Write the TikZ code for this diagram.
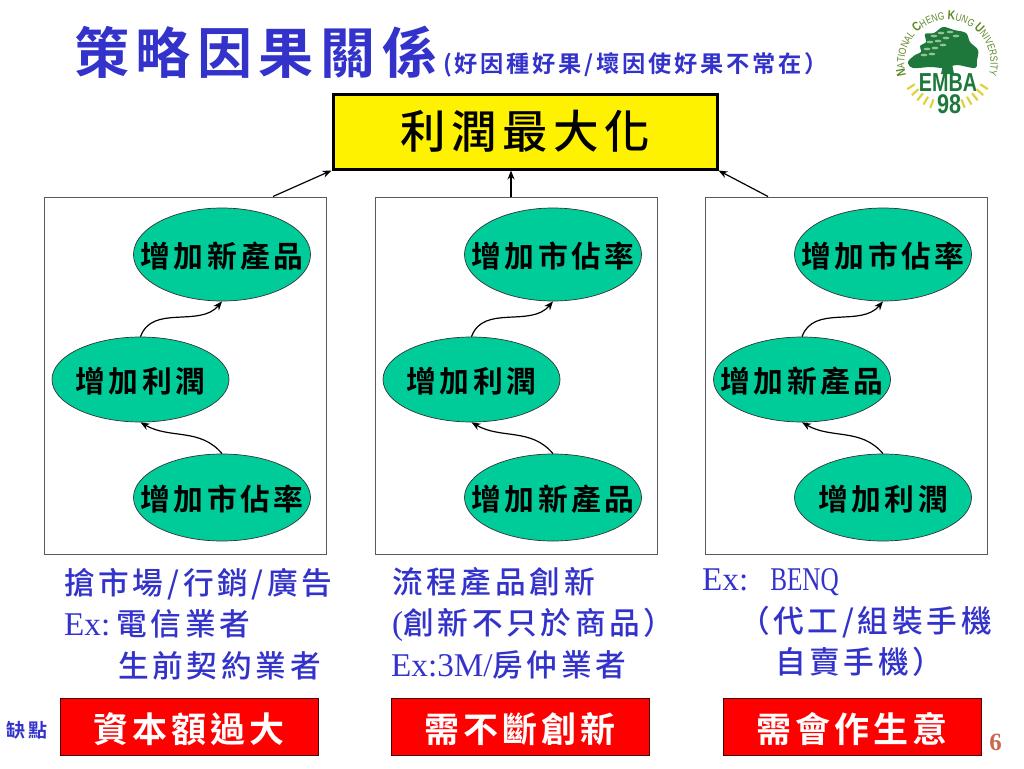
\documentclass[tikz,border=0pt]{standalone}
\usepackage{fontspec}
\usepackage{tikz}
\usetikzlibrary{arrows.meta,decorations.text,shapes.geometric}
\setmainfont[Scale=1.08]{Liberation Serif}
\newfontfamily\cjk[LetterSpace=12]{Noto Sans CJK TC Medium}
\newfontfamily\cjkb[LetterSpace=12]{Noto Sans CJK TC Bold}
\newfontfamily\logofont[FakeStretch=0.8]{Liberation Sans}
\newfontfamily\logobold{Liberation Sans}
\newcommand{\aimtext}[1]{\makebox[0pt]{#1}}
\newcommand{\ringbig}{\fontsize{13}{14}\logofont\bfseries}
\newcommand{\ringsmall}{\fontsize{10.5}{11}\logofont}
\definecolor{cblue}{RGB}{51, 51, 204}
\definecolor{cgreen}{RGB}{0, 204, 153}
\definecolor{cframe}{RGB}{90, 90, 90}
\definecolor{cpage}{RGB}{204, 102, 80}
\definecolor{ctree}{RGB}{30, 120, 60}
\definecolor{cleaf}{RGB}{150, 195, 150}
\definecolor{cring}{RGB}{95, 135, 40}
\definecolor{cray}{RGB}{225, 210, 60}
\tikzset{
  goalbox/.style={rectangle, draw=black, fill=yellow, line width=3pt, minimum width=384pt, minimum height=75pt, inner sep=0pt, font=\fontsize{45.5}{48}\cjk},
  casebox/.style={rectangle, draw=cframe, line width=1pt, minimum width=282pt, minimum height=357pt},
  aim/.style={ellipse, draw=black!80, fill=cgreen, line width=0.7pt, minimum width=177pt, minimum height=87pt, inner sep=0pt, text height=26.6pt, text depth=0pt, font=\fontsize{29.8}{32}\cjkb},
  weakbox/.style={rectangle, draw=black!70!red, fill=red, line width=1pt, minimum width=258pt, minimum height=57pt, inner sep=0pt, text=white, text height=32.6pt, text depth=0pt, font=\fontsize{35}{38}\cjkb},
  caption/.style={anchor=west, inner sep=0pt, align=left, text=cblue, font=\fontsize{30.7}{41.5}\selectfont},
  flow/.style={-{Stealth[length=9pt,width=7pt]}, line width=1.2pt, color=black}
}
\begin{document}
\begin{tikzpicture}
\useasboundingbox (0pt, 0pt) rectangle (1024pt, -768pt);
\node (title) [anchor=west, inner sep=0pt, text=cblue, font=\fontsize{55}{60}\cjkb] at (74pt, -52pt) {策略因果關係};
\node (subtitle) [anchor=west, inner sep=0pt, text=cblue, font=\fontsize{23.2}{26}\cjkb] at (443pt, -65pt) {(好因種好果/壞因使好果不常在）};
\node (goal) [goalbox] at (525pt, -131.5pt) {利潤最大化};
\node (boxA) [casebox] at (185pt, -375.5pt) {};
\node (boxB) [casebox] at (516pt, -375.5pt) {};
\node (boxC) [casebox] at (846.5pt, -375.5pt) {};
\node (topA) [aim, minimum height=93pt] at (222pt, -254.5pt) {\aimtext{增加新產品}};
\node (midA) [aim, minimum height=85pt] at (140.5pt, -379.5pt) {\aimtext{增加利潤}};
\node (botA) [aim] at (222pt, -497.5pt) {\aimtext{增加市佔率}};
\node (topB) [aim, minimum height=93pt] at (553pt, -254.5pt) {\aimtext{增加市佔率}};
\node (midB) [aim, minimum height=85pt] at (471.5pt, -379.5pt) {\aimtext{增加利潤}};
\node (botB) [aim] at (553pt, -497.5pt) {\aimtext{增加新產品}};
\node (topC) [aim, minimum height=93pt] at (883pt, -254.5pt) {\aimtext{增加市佔率}};
\node (midC) [aim, minimum height=85pt] at (802pt, -379.5pt) {\aimtext{增加新產品}};
\node (botC) [aim] at (883pt, -497.5pt) {\aimtext{增加利潤}};
\draw [flow] ([xshift=88pt]boxA.north) to (goal.south west);
\draw [flow] ([xshift=-5pt]boxB.north) to ([xshift=-14pt]goal.south);
\draw [flow] ([xshift=-78.5pt]boxC.north) to (goal.south east);
\draw [flow] (midA.north) to [out=70, in=-130] (topA.south);
\draw [flow] (botA.north) to [out=130, in=-30] (midA.south);
\draw [flow] (midB.north) to [out=70, in=-130] (topB.south);
\draw [flow] (botB.north) to [out=130, in=-30] (midB.south);
\draw [flow] (midC.north) to [out=70, in=-130] (topC.south);
\draw [flow] (botC.north) to [out=130, in=-30] (midC.south);
\node (capA) [caption] at (64pt, -624pt) {\cjk 搶市場/行銷/廣告\\{\rmfamily Ex:}\hspace{6pt}\cjk 電信業者\\\hspace*{54pt}\cjk 生前契約業者};
\node (capB) [caption] at (391pt, -623pt) {\hspace*{1pt}\cjk 流程產品創新\\\hspace*{1pt}(\cjk 創新不只於商品）\\Ex:3M/\cjk 房仲業者};
\node (capC) [caption] at (702pt, -623pt) {Ex:\hspace{22pt}\scalebox{0.76}[1]{BENQ}\\\hspace*{37pt}\cjk （代工/組裝手機\\\hspace*{73pt}\cjk 自賣手機）};
\node (lack) [inner sep=0pt, text=cblue, font=\fontsize{19}{22}\cjkb] at (27pt, -730pt) {缺點};
\node (weakA) [weakbox] at (189pt, -726.5pt) {資本額過大};
\node (weakB) [weakbox] at (520pt, -726.5pt) {需不斷創新};
\node (weakC) [weakbox] at (852pt, -726.5pt) {需會作生意};
\node (page) [inner sep=0pt, text=cpage, font=\fontsize{23}{28}\bfseries] at (995.5pt, -742pt) {6};
\fill [ctree] plot [smooth cycle, tension=0.55] coordinates {(908pt,-62pt) (915pt,-55pt) (921pt,-52pt) (920pt,-46pt) (926pt,-42pt) (925pt,-34pt) (934pt,-33pt) (943pt,-27pt) (954pt,-30pt) (966pt,-33pt) (970pt,-42pt) (978pt,-50pt) (977pt,-60pt) (975pt,-68pt) (957pt,-65pt) (945pt,-68pt) (930pt,-67pt) (913pt,-68pt)};
\fill [ctree] (943pt,-64pt) -- (952pt,-64pt) -- (954pt,-74pt) -- (941pt,-74pt) -- cycle;
\foreach \x/\y in {934/36, 941/33, 950/32, 930/42, 938/41, 946/38, 956/36, 927/49, 935/48, 943/45, 924/55, 932/54}
  \fill [cleaf] (\x pt,-\y pt) ellipse (3.4pt and 1.3pt);
\node (emba) [inner sep=0pt, text=ctree, xscale=0.76, font=\fontsize{26}{28}\logobold\bfseries] at (948pt, -83pt) {EMBA};
\node (yearno) [inner sep=0pt, text=ctree, xscale=0.8, font=\fontsize{27}{29}\logobold\bfseries] at (949pt, -104pt) {98};
\foreach \a in {213,222,231,240,249}
  \draw [cray, line width=2.2pt] (947.5pt,-63pt) ++(\a:39pt) -- ++(\a:9pt);
\foreach \a in {-33,-42,-51,-60,-69}
  \draw [cray, line width=2.2pt] (947.5pt,-63pt) ++(\a:39pt) -- ++(\a:9pt);
\path [postaction={decorate, decoration={text along path, text align=center, text color=cring, text={|\ringbig|N|\ringsmall|ATIONAL |\ringbig|C|\ringsmall|HENG |\ringbig|K|\ringsmall|UNG |\ringbig|U|\ringsmall|NIVERSITY}}}] (947.5pt,-63pt) ++(208:43pt) arc (208:-28:43pt);
\end{tikzpicture}
\end{document}
